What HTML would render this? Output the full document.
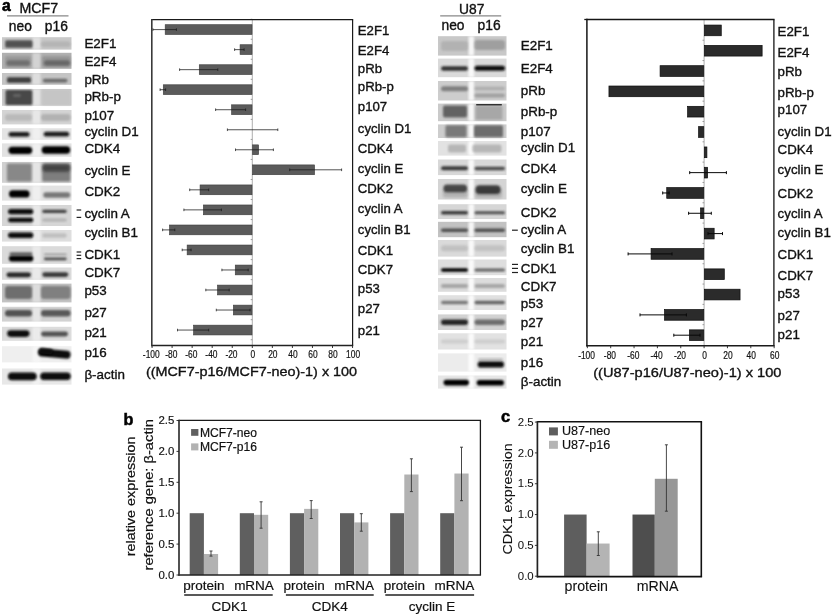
<!DOCTYPE html>
<html><head><meta charset="utf-8"><style>
html,body{margin:0;padding:0;background:#fff;width:833px;height:615px;overflow:hidden}
svg{display:block;font-family:"Liberation Sans",sans-serif;will-change:transform}
text{font-family:"Liberation Sans",sans-serif}
</style></head><body>
<svg width="833" height="615" viewBox="0 0 833 615" font-family="'Liberation Sans', sans-serif"><defs><filter id="b4" x="-20%" y="-50%" width="140%" height="200%"><feGaussianBlur stdDeviation="0.4"/></filter><filter id="b6" x="-20%" y="-50%" width="140%" height="200%"><feGaussianBlur stdDeviation="0.6"/></filter><filter id="b8" x="-20%" y="-50%" width="140%" height="200%"><feGaussianBlur stdDeviation="0.8"/></filter><filter id="b10" x="-20%" y="-50%" width="140%" height="200%"><feGaussianBlur stdDeviation="1.0"/></filter><filter id="b12" x="-20%" y="-50%" width="140%" height="200%"><feGaussianBlur stdDeviation="1.2"/></filter><filter id="b15" x="-20%" y="-50%" width="140%" height="200%"><feGaussianBlur stdDeviation="1.5"/></filter><filter id="b20" x="-20%" y="-50%" width="140%" height="200%"><feGaussianBlur stdDeviation="2.0"/></filter></defs><rect width="833" height="615" fill="#fff"/><rect x="2.00" y="37.20" width="69.50" height="12.40" fill="#c9c9c9" filter="url(#b6)"/>
<rect x="32.50" y="37.20" width="8.00" height="12.40" fill="#ffffff" opacity="0.45" filter="url(#b10)"/>
<rect x="5.20" y="40.30" width="27.30" height="7.40" rx="1.5" fill="#3c3c3c" opacity="0.85" filter="url(#b8)"/>
<rect x="41.00" y="41.20" width="29.50" height="6.00" rx="3.0" fill="#a5a5a5" opacity="0.55" filter="url(#b8)"/>
<rect x="2.00" y="52.80" width="69.50" height="16.00" fill="#b0b0b0" filter="url(#b6)"/>
<rect x="32.50" y="52.80" width="8.00" height="16.00" fill="#ffffff" opacity="0.45" filter="url(#b10)"/>
<rect x="5.00" y="56.00" width="26.00" height="11.00" rx="2" fill="#8a8a8a" opacity="0.6" filter="url(#b12)"/>
<rect x="42.00" y="56.00" width="28.50" height="11.00" rx="2" fill="#858585" opacity="0.6" filter="url(#b12)"/>
<rect x="6.50" y="60.25" width="23.50" height="5.50" rx="2.75" fill="#5e5e5e" opacity="0.7" filter="url(#b8)"/>
<rect x="44.00" y="60.25" width="26.00" height="5.50" rx="2.75" fill="#555" opacity="0.7" filter="url(#b8)"/>
<rect x="2.00" y="73.00" width="69.50" height="11.80" fill="#c4c4c4" filter="url(#b6)"/>
<rect x="32.50" y="73.00" width="8.00" height="11.80" fill="#ffffff" opacity="0.45" filter="url(#b10)"/>
<rect x="7.00" y="77.25" width="24.00" height="5.50" rx="1.5" fill="#262626" opacity="0.85" filter="url(#b8)"/>
<rect x="42.80" y="78.80" width="24.70" height="3.60" rx="1.8" fill="#444" opacity="0.7" filter="url(#b8)"/>
<rect x="2.00" y="89.00" width="69.50" height="16.80" fill="#cacaca" filter="url(#b6)"/>
<rect x="32.50" y="89.00" width="8.00" height="16.80" fill="#ffffff" opacity="0.45" filter="url(#b10)"/>
<rect x="5.50" y="89.90" width="26.80" height="15.00" rx="1.5" fill="#333" opacity="0.85" filter="url(#b8)"/>
<rect x="13.00" y="94.00" width="8.00" height="3.00" rx="1.5" fill="#999" opacity="0.35" filter="url(#b8)"/>
<rect x="42.30" y="89.90" width="28.20" height="15.00" rx="1" fill="#c2c2c2" opacity="0.6" filter="url(#b8)"/>
<rect x="2.00" y="110.00" width="69.50" height="14.40" fill="#d4d4d4" filter="url(#b6)"/>
<rect x="32.50" y="110.00" width="8.00" height="14.40" fill="#ffffff" opacity="0.45" filter="url(#b10)"/>
<rect x="5.00" y="114.00" width="27.00" height="7.00" rx="3" fill="#aaa" opacity="0.6" filter="url(#b8)"/>
<rect x="41.00" y="114.00" width="29.50" height="7.00" rx="3" fill="#9d9d9d" opacity="0.6" filter="url(#b8)"/>
<rect x="2.00" y="128.20" width="69.50" height="11.60" fill="#e4e4e4" filter="url(#b6)"/>
<rect x="32.50" y="128.20" width="8.00" height="11.60" fill="#ffffff" opacity="0.45" filter="url(#b10)"/>
<rect x="8.60" y="132.00" width="21.00" height="4.80" rx="2.4" fill="#111" opacity="0.92" filter="url(#b8)"/>
<rect x="43.70" y="131.80" width="25.50" height="4.80" rx="2.4" fill="#111" opacity="0.92" filter="url(#b8)"/>
<rect x="2.00" y="143.40" width="69.50" height="13.40" fill="#e2e2e2" filter="url(#b6)"/>
<rect x="32.50" y="143.40" width="8.00" height="13.40" fill="#ffffff" opacity="0.45" filter="url(#b10)"/>
<rect x="8.50" y="146.70" width="23.70" height="7.20" rx="3.6" fill="#050505" opacity="1" filter="url(#b8)"/>
<rect x="41.70" y="146.30" width="28.50" height="7.40" rx="3.6" fill="#050505" opacity="1" filter="url(#b8)"/>
<rect x="2.00" y="162.00" width="69.50" height="20.80" fill="#d0d0d0" filter="url(#b6)"/>
<rect x="32.50" y="162.00" width="8.00" height="20.80" fill="#ffffff" opacity="0.45" filter="url(#b10)"/>
<rect x="6.90" y="163.40" width="24.80" height="18.00" rx="1.5" fill="#777" opacity="0.8" filter="url(#b10)"/>
<rect x="42.30" y="163.40" width="27.90" height="18.00" rx="1.5" fill="#6a6a6a" opacity="0.8" filter="url(#b10)"/>
<rect x="42.50" y="164.25" width="27.50" height="7.50" rx="3" fill="#2a2a2a" opacity="0.7" filter="url(#b15)"/>
<rect x="2.00" y="185.60" width="69.50" height="15.00" fill="#e2e2e2" filter="url(#b6)"/>
<rect x="32.50" y="185.60" width="8.00" height="15.00" fill="#ffffff" opacity="0.45" filter="url(#b10)"/>
<rect x="9.00" y="190.20" width="20.60" height="7.40" rx="3.6" fill="#060606" opacity="1" filter="url(#b8)"/>
<rect x="43.30" y="192.35" width="26.90" height="5.30" rx="2.6" fill="#555" opacity="0.75" filter="url(#b8)"/>
<rect x="2.00" y="205.00" width="69.50" height="21.00" fill="#d6d6d6" filter="url(#b6)"/>
<rect x="32.50" y="205.00" width="8.00" height="21.00" fill="#ffffff" opacity="0.45" filter="url(#b10)"/>
<rect x="8.10" y="208.90" width="25.20" height="5.40" rx="2.7" fill="#080808" opacity="1" filter="url(#b8)"/>
<rect x="8.10" y="217.80" width="25.20" height="4.40" rx="2.2" fill="#0a0a0a" opacity="1" filter="url(#b8)"/>
<rect x="42.30" y="209.70" width="24.40" height="3.20" rx="1.6" fill="#333" opacity="0.9" filter="url(#b8)"/>
<rect x="42.30" y="218.50" width="24.40" height="3.00" rx="1.5" fill="#999" opacity="0.6" filter="url(#b8)"/>
<rect x="2.00" y="230.00" width="69.50" height="11.60" fill="#dedede" filter="url(#b6)"/>
<rect x="32.50" y="230.00" width="8.00" height="11.60" fill="#ffffff" opacity="0.45" filter="url(#b10)"/>
<rect x="8.10" y="232.60" width="25.20" height="5.40" rx="2.7" fill="#080808" opacity="1" filter="url(#b8)"/>
<rect x="42.30" y="233.35" width="24.40" height="4.50" rx="2.25" fill="#aaa" opacity="0.6" filter="url(#b8)"/>
<rect x="2.00" y="246.20" width="69.50" height="17.60" fill="#dadada" filter="url(#b6)"/>
<rect x="32.50" y="246.20" width="8.00" height="17.60" fill="#ffffff" opacity="0.45" filter="url(#b10)"/>
<rect x="8.90" y="255.40" width="24.40" height="6.00" rx="3" fill="#050505" opacity="1" filter="url(#b8)"/>
<rect x="9.50" y="252.25" width="23.00" height="3.50" rx="1.7" fill="#3a3a3a" opacity="0.75" filter="url(#b8)"/>
<rect x="44.00" y="257.50" width="22.70" height="2.80" rx="1.4" fill="#333" opacity="0.85" filter="url(#b8)"/>
<rect x="44.00" y="253.35" width="22.70" height="2.50" rx="1.2" fill="#888" opacity="0.6" filter="url(#b8)"/>
<rect x="2.00" y="267.50" width="69.50" height="12.30" fill="#dadada" filter="url(#b6)"/>
<rect x="32.50" y="267.50" width="8.00" height="12.30" fill="#ffffff" opacity="0.45" filter="url(#b10)"/>
<rect x="6.50" y="272.40" width="24.40" height="4.80" rx="2.4" fill="#1a1a1a" opacity="0.95" filter="url(#b8)"/>
<rect x="42.30" y="272.20" width="26.00" height="4.80" rx="2.4" fill="#2a2a2a" opacity="0.9" filter="url(#b8)"/>
<rect x="2.00" y="283.60" width="69.50" height="18.80" fill="#c2c2c2" filter="url(#b6)"/>
<rect x="32.50" y="283.60" width="8.00" height="18.80" fill="#ffffff" opacity="0.45" filter="url(#b10)"/>
<rect x="5.00" y="286.00" width="27.00" height="13.00" rx="3" fill="#5a5a5a" opacity="0.8" filter="url(#b8)"/>
<rect x="41.00" y="286.00" width="29.50" height="13.00" rx="3" fill="#6a6a6a" opacity="0.75" filter="url(#b8)"/>
<rect x="2.00" y="306.80" width="69.50" height="14.80" fill="#d2d2d2" filter="url(#b6)"/>
<rect x="32.50" y="306.80" width="8.00" height="14.80" fill="#ffffff" opacity="0.45" filter="url(#b10)"/>
<rect x="5.00" y="310.05" width="27.00" height="6.50" rx="3" fill="#3e3e3e" opacity="0.85" filter="url(#b8)"/>
<rect x="41.00" y="310.05" width="29.50" height="6.50" rx="3" fill="#444" opacity="0.85" filter="url(#b8)"/>
<rect x="2.00" y="326.80" width="69.50" height="14.00" fill="#dcdcdc" filter="url(#b6)"/>
<rect x="32.50" y="326.80" width="8.00" height="14.00" fill="#ffffff" opacity="0.45" filter="url(#b10)"/>
<rect x="7.20" y="330.30" width="22.30" height="6.60" rx="3.3" fill="#101010" opacity="1" filter="url(#b8)"/>
<rect x="41.10" y="331.60" width="26.90" height="4.80" rx="2.4" fill="#3a3a3a" opacity="0.85" filter="url(#b8)"/>
<rect x="2.00" y="346.20" width="69.50" height="16.20" fill="#efefef" filter="url(#b6)"/>
<rect x="32.50" y="346.20" width="8.00" height="16.20" fill="#ffffff" opacity="0.45" filter="url(#b10)"/>
<rect x="2.00" y="368.50" width="69.50" height="16.10" fill="#e8e8e8" filter="url(#b6)"/>
<rect x="32.50" y="368.50" width="8.00" height="16.10" fill="#ffffff" opacity="0.45" filter="url(#b10)"/>
<rect x="8.00" y="372.60" width="28.70" height="7.60" rx="3.8" fill="#070707" opacity="1" filter="url(#b8)"/>
<rect x="40.20" y="372.40" width="30.50" height="7.60" rx="3.8" fill="#070707" opacity="1" filter="url(#b8)"/>
<g transform="translate(54.3,353.6) rotate(5)"><rect x="-16.3" y="-3.9" width="32.6" height="7.8" rx="3.9" fill="#070707" filter="url(#b8)"/><rect x="-15.5" y="-4.3" width="14" height="6" rx="3" fill="#070707" filter="url(#b8)"/></g>
<rect x="438.00" y="36.20" width="68.50" height="19.40" fill="#c8c8c8" filter="url(#b6)"/>
<rect x="468.50" y="36.20" width="5.50" height="19.40" fill="#ffffff" opacity="0.85" filter="url(#b10)"/>
<rect x="441.00" y="41.00" width="27.00" height="10.00" rx="3" fill="#a5a5a5" opacity="0.6" filter="url(#b8)"/>
<rect x="474.50" y="40.00" width="30.50" height="10.00" rx="3" fill="#8e8e8e" opacity="0.7" filter="url(#b8)"/>
<rect x="438.00" y="58.60" width="68.50" height="18.60" fill="#dadada" filter="url(#b6)"/>
<rect x="468.50" y="58.60" width="5.50" height="18.60" fill="#ffffff" opacity="0.85" filter="url(#b10)"/>
<rect x="441.00" y="66.15" width="27.00" height="4.50" rx="2.25" fill="#222" opacity="0.9" filter="url(#b8)"/>
<rect x="474.50" y="65.80" width="30.50" height="5.00" rx="2.5" fill="#0a0a0a" opacity="1" filter="url(#b8)"/>
<rect x="438.00" y="81.00" width="68.50" height="19.50" fill="#cdcdcd" filter="url(#b6)"/>
<rect x="468.50" y="81.00" width="5.50" height="19.50" fill="#ffffff" opacity="0.85" filter="url(#b10)"/>
<rect x="441.00" y="86.30" width="27.00" height="5.00" rx="2.5" fill="#666" opacity="0.75" filter="url(#b8)"/>
<rect x="474.50" y="86.75" width="30.50" height="3.50" rx="1.75" fill="#999" opacity="0.6" filter="url(#b8)"/>
<rect x="474.50" y="93.60" width="30.50" height="4.00" rx="2.0" fill="#888" opacity="0.65" filter="url(#b8)"/>
<rect x="438.00" y="103.60" width="68.50" height="17.60" fill="#cacaca" filter="url(#b6)"/>
<rect x="468.50" y="103.60" width="5.50" height="17.60" fill="#ffffff" opacity="0.85" filter="url(#b10)"/>
<rect x="443.00" y="105.50" width="24.00" height="12.00" rx="2" fill="#4a4a4a" opacity="0.8" filter="url(#b12)"/>
<rect x="475.50" y="105.80" width="27.00" height="14.00" rx="1.5" fill="#999" opacity="0.7" filter="url(#b10)"/>
<rect x="476.00" y="104.00" width="26.00" height="1.60" rx="0.8" fill="#111" opacity="0.8" filter="url(#b6)"/>
<rect x="438.00" y="124.40" width="68.50" height="13.60" fill="#cdcdcd" filter="url(#b6)"/>
<rect x="468.50" y="124.40" width="5.50" height="13.60" fill="#ffffff" opacity="0.85" filter="url(#b10)"/>
<rect x="445.40" y="125.20" width="21.10" height="12.00" rx="1.5" fill="#5e5e5e" opacity="0.75" filter="url(#b10)"/>
<rect x="474.00" y="125.20" width="29.00" height="12.00" rx="1.5" fill="#555" opacity="0.8" filter="url(#b10)"/>
<rect x="438.00" y="141.00" width="68.50" height="14.60" fill="#e2e2e2" filter="url(#b6)"/>
<rect x="468.50" y="141.00" width="5.50" height="14.60" fill="#ffffff" opacity="0.85" filter="url(#b10)"/>
<rect x="448.00" y="144.50" width="18.00" height="8.00" rx="2" fill="#999" opacity="0.6" filter="url(#b12)"/>
<rect x="472.30" y="144.50" width="29.20" height="8.00" rx="2" fill="#999" opacity="0.6" filter="url(#b12)"/>
<rect x="438.00" y="159.50" width="68.50" height="15.60" fill="#d8d8d8" filter="url(#b6)"/>
<rect x="468.50" y="159.50" width="5.50" height="15.60" fill="#ffffff" opacity="0.85" filter="url(#b10)"/>
<rect x="441.00" y="166.30" width="27.00" height="4.00" rx="2.0" fill="#2a2a2a" opacity="0.9" filter="url(#b8)"/>
<rect x="474.50" y="166.75" width="30.50" height="3.50" rx="1.75" fill="#333" opacity="0.85" filter="url(#b8)"/>
<rect x="438.00" y="179.00" width="68.50" height="20.50" fill="#d4d4d4" filter="url(#b6)"/>
<rect x="468.50" y="179.00" width="5.50" height="20.50" fill="#ffffff" opacity="0.85" filter="url(#b10)"/>
<rect x="443.00" y="187.50" width="24.50" height="10.00" rx="2" fill="#999" opacity="0.6" filter="url(#b15)"/>
<rect x="475.00" y="188.00" width="27.00" height="10.00" rx="2" fill="#999" opacity="0.6" filter="url(#b15)"/>
<rect x="443.50" y="184.40" width="23.50" height="7.80" rx="3.5" fill="#333" opacity="0.85" filter="url(#b12)"/>
<rect x="475.50" y="185.30" width="25.00" height="8.60" rx="4" fill="#2a2a2a" opacity="0.88" filter="url(#b12)"/>
<rect x="438.00" y="204.20" width="68.50" height="14.80" fill="#d6d6d6" filter="url(#b6)"/>
<rect x="468.50" y="204.20" width="5.50" height="14.80" fill="#ffffff" opacity="0.85" filter="url(#b10)"/>
<rect x="441.00" y="211.05" width="27.00" height="3.50" rx="1.75" fill="#2a2a2a" opacity="0.9" filter="url(#b8)"/>
<rect x="474.50" y="211.30" width="30.50" height="3.00" rx="1.5" fill="#3a3a3a" opacity="0.85" filter="url(#b8)"/>
<rect x="438.00" y="221.80" width="68.50" height="15.40" fill="#c2c2c2" filter="url(#b6)"/>
<rect x="468.50" y="221.80" width="5.50" height="15.40" fill="#ffffff" opacity="0.85" filter="url(#b10)"/>
<rect x="441.00" y="228.45" width="27.00" height="3.50" rx="1.75" fill="#3a3a3a" opacity="0.85" filter="url(#b8)"/>
<rect x="474.50" y="228.45" width="30.50" height="3.50" rx="1.75" fill="#3a3a3a" opacity="0.85" filter="url(#b8)"/>
<rect x="438.00" y="240.00" width="68.50" height="16.60" fill="#dadada" filter="url(#b6)"/>
<rect x="468.50" y="240.00" width="5.50" height="16.60" fill="#ffffff" opacity="0.85" filter="url(#b10)"/>
<rect x="441.00" y="245.30" width="27.00" height="6.00" rx="3.0" fill="#b0b0b0" opacity="0.6" filter="url(#b8)"/>
<rect x="474.50" y="245.30" width="30.50" height="6.00" rx="3.0" fill="#b3b3b3" opacity="0.6" filter="url(#b8)"/>
<rect x="438.00" y="259.50" width="68.50" height="15.70" fill="#dedede" filter="url(#b6)"/>
<rect x="468.50" y="259.50" width="5.50" height="15.70" fill="#ffffff" opacity="0.85" filter="url(#b10)"/>
<rect x="441.00" y="268.15" width="27.00" height="3.50" rx="1.75" fill="#000" opacity="1" filter="url(#b8)"/>
<rect x="474.50" y="268.40" width="30.50" height="3.00" rx="1.5" fill="#444" opacity="0.8" filter="url(#b8)"/>
<rect x="438.00" y="278.00" width="68.50" height="13.80" fill="#dcdcdc" filter="url(#b6)"/>
<rect x="468.50" y="278.00" width="5.50" height="13.80" fill="#ffffff" opacity="0.85" filter="url(#b10)"/>
<rect x="441.00" y="283.90" width="27.00" height="4.00" rx="2.0" fill="#888" opacity="0.65" filter="url(#b8)"/>
<rect x="474.50" y="283.90" width="30.50" height="4.00" rx="2.0" fill="#8a8a8a" opacity="0.65" filter="url(#b8)"/>
<rect x="438.00" y="295.20" width="68.50" height="14.80" fill="#e0e0e0" filter="url(#b6)"/>
<rect x="468.50" y="295.20" width="5.50" height="14.80" fill="#ffffff" opacity="0.85" filter="url(#b10)"/>
<rect x="441.00" y="300.65" width="27.00" height="3.50" rx="1.75" fill="#555" opacity="0.75" filter="url(#b8)"/>
<rect x="474.50" y="300.65" width="30.50" height="3.50" rx="1.75" fill="#444" opacity="0.8" filter="url(#b8)"/>
<rect x="438.00" y="314.40" width="68.50" height="15.60" fill="#d2d2d2" filter="url(#b6)"/>
<rect x="468.50" y="314.40" width="5.50" height="15.60" fill="#ffffff" opacity="0.85" filter="url(#b10)"/>
<rect x="441.00" y="319.45" width="27.00" height="5.50" rx="2.75" fill="#1e1e1e" opacity="0.95" filter="url(#b8)"/>
<rect x="474.50" y="319.45" width="30.50" height="5.50" rx="2.75" fill="#555" opacity="0.8" filter="url(#b8)"/>
<rect x="438.00" y="333.30" width="68.50" height="16.20" fill="#e2e2e2" filter="url(#b6)"/>
<rect x="468.50" y="333.30" width="5.50" height="16.20" fill="#ffffff" opacity="0.85" filter="url(#b10)"/>
<rect x="441.00" y="339.50" width="27.00" height="4.00" rx="2.0" fill="#c0c0c0" opacity="0.6" filter="url(#b8)"/>
<rect x="474.50" y="339.50" width="30.50" height="4.00" rx="2.0" fill="#c0c0c0" opacity="0.6" filter="url(#b8)"/>
<rect x="438.00" y="353.40" width="68.50" height="18.20" fill="#ececec" filter="url(#b6)"/>
<rect x="468.50" y="353.40" width="5.50" height="18.20" fill="#ffffff" opacity="0.85" filter="url(#b10)"/>
<rect x="477.70" y="361.20" width="26.30" height="6.40" rx="3.2" fill="#0a0a0a" opacity="1" filter="url(#b8)"/>
<rect x="478.00" y="358.35" width="25.00" height="2.50" rx="1.25" fill="#999" opacity="0.6" filter="url(#b8)"/>
<rect x="438.00" y="375.50" width="68.50" height="13.10" fill="#e6e6e6" filter="url(#b6)"/>
<rect x="468.50" y="375.50" width="5.50" height="13.10" fill="#ffffff" opacity="0.85" filter="url(#b10)"/>
<rect x="443.50" y="379.80" width="25.50" height="5.60" rx="2.8" fill="#050505" opacity="1" filter="url(#b8)"/>
<rect x="476.70" y="380.00" width="27.30" height="5.60" rx="2.8" fill="#050505" opacity="1" filter="url(#b8)"/>
<text transform="translate(2.10,10.80)" font-size="15.6" font-weight="bold" fill="#000" stroke="#000" stroke-width="0.6">a</text>
<text transform="translate(19.50,13.30) scale(1.030,1)" font-size="13.8" fill="#111" stroke="#111" stroke-width="0.35">MCF7</text>
<line x1="7.00" y1="15.80" x2="68.50" y2="15.80" stroke="#888" stroke-width="1.2"/>
<text transform="translate(8.80,30.70)" font-size="13.8" fill="#111" stroke="#111" stroke-width="0.35">neo</text>
<text transform="translate(44.80,30.70)" font-size="13.8" fill="#111" stroke="#111" stroke-width="0.35">p16</text>
<text transform="translate(459.00,13.60)" font-size="13.8" fill="#111" stroke="#111" stroke-width="0.35">U87</text>
<line x1="440.20" y1="15.90" x2="501.20" y2="15.90" stroke="#888" stroke-width="1.3"/>
<text transform="translate(441.50,30.30)" font-size="13.8" fill="#111" stroke="#111" stroke-width="0.35">neo</text>
<text transform="translate(477.60,30.30)" font-size="13.8" fill="#111" stroke="#111" stroke-width="0.35">p16</text>
<text transform="translate(84.40,47.60)" font-size="13.4" fill="#111" stroke="#111" stroke-width="0.35">E2F1</text>
<text transform="translate(84.40,65.80)" font-size="13.4" fill="#111" stroke="#111" stroke-width="0.35">E2F4</text>
<text transform="translate(84.40,83.70)" font-size="13.4" fill="#111" stroke="#111" stroke-width="0.35">pRb</text>
<text transform="translate(84.40,100.70)" font-size="13.4" fill="#111" stroke="#111" stroke-width="0.35">pRb-p</text>
<text transform="translate(84.40,120.20)" font-size="13.4" fill="#111" stroke="#111" stroke-width="0.35">p107</text>
<text transform="translate(84.40,136.30)" font-size="13.4" fill="#111" stroke="#111" stroke-width="0.35">cyclin D1</text>
<text transform="translate(84.40,153.30)" font-size="13.4" fill="#111" stroke="#111" stroke-width="0.35">CDK4</text>
<text transform="translate(84.40,174.50)" font-size="13.4" fill="#111" stroke="#111" stroke-width="0.35">cyclin E</text>
<text transform="translate(84.40,195.60)" font-size="13.4" fill="#111" stroke="#111" stroke-width="0.35">CDK2</text>
<text transform="translate(84.40,218.20)" font-size="13.4" fill="#111" stroke="#111" stroke-width="0.35">cyclin A</text>
<text transform="translate(84.40,237.40)" font-size="13.4" fill="#111" stroke="#111" stroke-width="0.35">cyclin B1</text>
<text transform="translate(84.40,258.50)" font-size="13.4" fill="#111" stroke="#111" stroke-width="0.35">CDK1</text>
<text transform="translate(84.40,277.20)" font-size="13.4" fill="#111" stroke="#111" stroke-width="0.35">CDK7</text>
<text transform="translate(84.40,295.10)" font-size="13.4" fill="#111" stroke="#111" stroke-width="0.35">p53</text>
<text transform="translate(84.40,316.80)" font-size="13.4" fill="#111" stroke="#111" stroke-width="0.35">p27</text>
<text transform="translate(84.40,337.20)" font-size="13.4" fill="#111" stroke="#111" stroke-width="0.35">p21</text>
<text transform="translate(84.40,357.00)" font-size="13.4" fill="#111" stroke="#111" stroke-width="0.35">p16</text>
<text transform="translate(84.40,378.60)" font-size="13.4" fill="#111" stroke="#111" stroke-width="0.35">&#946;-actin</text>
<line x1="76.60" y1="210.00" x2="81.20" y2="210.00" stroke="#222" stroke-width="1.2"/>
<line x1="76.60" y1="217.40" x2="81.20" y2="217.40" stroke="#222" stroke-width="1.2"/>
<line x1="76.60" y1="252.00" x2="81.20" y2="252.00" stroke="#222" stroke-width="1.2"/>
<line x1="76.60" y1="255.30" x2="81.20" y2="255.30" stroke="#222" stroke-width="1.2"/>
<line x1="76.60" y1="258.60" x2="81.20" y2="258.60" stroke="#222" stroke-width="1.2"/>
<text transform="translate(520.80,49.70)" font-size="13.4" fill="#111" stroke="#111" stroke-width="0.35">E2F1</text>
<text transform="translate(520.80,72.60)" font-size="13.4" fill="#111" stroke="#111" stroke-width="0.35">E2F4</text>
<text transform="translate(520.80,95.00)" font-size="13.4" fill="#111" stroke="#111" stroke-width="0.35">pRb</text>
<text transform="translate(520.80,115.80)" font-size="13.4" fill="#111" stroke="#111" stroke-width="0.35">pRb-p</text>
<text transform="translate(520.80,135.50)" font-size="13.4" fill="#111" stroke="#111" stroke-width="0.35">p107</text>
<text transform="translate(520.80,151.70)" font-size="13.4" fill="#111" stroke="#111" stroke-width="0.35">cyclin D1</text>
<text transform="translate(520.80,172.60)" font-size="13.4" fill="#111" stroke="#111" stroke-width="0.35">CDK4</text>
<text transform="translate(520.80,193.40)" font-size="13.4" fill="#111" stroke="#111" stroke-width="0.35">cyclin E</text>
<text transform="translate(520.80,217.20)" font-size="13.4" fill="#111" stroke="#111" stroke-width="0.35">CDK2</text>
<text transform="translate(520.80,234.10)" font-size="13.4" fill="#111" stroke="#111" stroke-width="0.35">cyclin A</text>
<text transform="translate(520.80,253.10)" font-size="13.4" fill="#111" stroke="#111" stroke-width="0.35">cyclin B1</text>
<text transform="translate(520.80,273.20)" font-size="13.4" fill="#111" stroke="#111" stroke-width="0.35">CDK1</text>
<text transform="translate(520.80,291.10)" font-size="13.4" fill="#111" stroke="#111" stroke-width="0.35">CDK7</text>
<text transform="translate(520.80,307.80)" font-size="13.4" fill="#111" stroke="#111" stroke-width="0.35">p53</text>
<text transform="translate(520.80,326.90)" font-size="13.4" fill="#111" stroke="#111" stroke-width="0.35">p27</text>
<text transform="translate(520.80,346.40)" font-size="13.4" fill="#111" stroke="#111" stroke-width="0.35">p21</text>
<text transform="translate(520.80,367.40)" font-size="13.4" fill="#111" stroke="#111" stroke-width="0.35">p16</text>
<text transform="translate(520.80,386.40)" font-size="13.4" fill="#111" stroke="#111" stroke-width="0.35">&#946;-actin</text>
<line x1="512.00" y1="230.20" x2="517.80" y2="230.20" stroke="#222" stroke-width="1.2"/>
<line x1="512.00" y1="264.40" x2="518.00" y2="264.40" stroke="#222" stroke-width="1.2"/>
<line x1="512.00" y1="268.40" x2="518.00" y2="268.40" stroke="#222" stroke-width="1.2"/>
<line x1="512.00" y1="272.50" x2="518.00" y2="272.50" stroke="#222" stroke-width="1.2"/>
<line x1="252.30" y1="19.70" x2="252.30" y2="345.50" stroke="#9a9a9a" stroke-width="0.8"/>
<line x1="250.70" y1="19.25" x2="252.30" y2="19.25" stroke="#888" stroke-width="0.8"/>
<line x1="250.70" y1="39.28" x2="252.30" y2="39.28" stroke="#888" stroke-width="0.8"/>
<line x1="250.70" y1="59.31" x2="252.30" y2="59.31" stroke="#888" stroke-width="0.8"/>
<line x1="250.70" y1="79.34" x2="252.30" y2="79.34" stroke="#888" stroke-width="0.8"/>
<line x1="250.70" y1="99.37" x2="252.30" y2="99.37" stroke="#888" stroke-width="0.8"/>
<line x1="250.70" y1="119.40" x2="252.30" y2="119.40" stroke="#888" stroke-width="0.8"/>
<line x1="250.70" y1="139.43" x2="252.30" y2="139.43" stroke="#888" stroke-width="0.8"/>
<line x1="250.70" y1="159.46" x2="252.30" y2="159.46" stroke="#888" stroke-width="0.8"/>
<line x1="250.70" y1="179.49" x2="252.30" y2="179.49" stroke="#888" stroke-width="0.8"/>
<line x1="250.70" y1="199.52" x2="252.30" y2="199.52" stroke="#888" stroke-width="0.8"/>
<line x1="250.70" y1="219.55" x2="252.30" y2="219.55" stroke="#888" stroke-width="0.8"/>
<line x1="250.70" y1="239.58" x2="252.30" y2="239.58" stroke="#888" stroke-width="0.8"/>
<line x1="250.70" y1="259.61" x2="252.30" y2="259.61" stroke="#888" stroke-width="0.8"/>
<line x1="250.70" y1="279.64" x2="252.30" y2="279.64" stroke="#888" stroke-width="0.8"/>
<line x1="250.70" y1="299.67" x2="252.30" y2="299.67" stroke="#888" stroke-width="0.8"/>
<line x1="250.70" y1="319.70" x2="252.30" y2="319.70" stroke="#888" stroke-width="0.8"/>
<line x1="250.70" y1="339.73" x2="252.30" y2="339.73" stroke="#888" stroke-width="0.8"/>
<rect x="165.18" y="24.70" width="86.82" height="9.80" fill="#5b5b5b" stroke="#3c3c3c" stroke-width="0.6"/>
<line x1="152.90" y1="29.60" x2="176.40" y2="29.60" stroke="#1a1a1a" stroke-width="0.75"/>
<line x1="152.90" y1="28.30" x2="152.90" y2="30.90" stroke="#1a1a1a" stroke-width="0.75"/>
<line x1="176.40" y1="28.30" x2="176.40" y2="30.90" stroke="#1a1a1a" stroke-width="0.75"/>
<rect x="240.07" y="44.73" width="11.93" height="9.80" fill="#5b5b5b" stroke="#3c3c3c" stroke-width="0.6"/>
<line x1="234.60" y1="49.63" x2="244.10" y2="49.63" stroke="#1a1a1a" stroke-width="0.75"/>
<line x1="234.60" y1="48.33" x2="234.60" y2="50.93" stroke="#1a1a1a" stroke-width="0.75"/>
<line x1="244.10" y1="48.33" x2="244.10" y2="50.93" stroke="#1a1a1a" stroke-width="0.75"/>
<rect x="199.27" y="64.76" width="52.73" height="9.80" fill="#5b5b5b" stroke="#3c3c3c" stroke-width="0.6"/>
<line x1="179.60" y1="69.66" x2="217.80" y2="69.66" stroke="#1a1a1a" stroke-width="0.75"/>
<line x1="179.60" y1="68.36" x2="179.60" y2="70.96" stroke="#1a1a1a" stroke-width="0.75"/>
<line x1="217.80" y1="68.36" x2="217.80" y2="70.96" stroke="#1a1a1a" stroke-width="0.75"/>
<rect x="163.28" y="84.79" width="88.72" height="9.80" fill="#5b5b5b" stroke="#3c3c3c" stroke-width="0.6"/>
<line x1="160.10" y1="89.69" x2="165.60" y2="89.69" stroke="#1a1a1a" stroke-width="0.75"/>
<line x1="160.10" y1="88.39" x2="160.10" y2="90.99" stroke="#1a1a1a" stroke-width="0.75"/>
<line x1="165.60" y1="88.39" x2="165.60" y2="90.99" stroke="#1a1a1a" stroke-width="0.75"/>
<rect x="231.55" y="104.82" width="20.45" height="9.80" fill="#5b5b5b" stroke="#3c3c3c" stroke-width="0.6"/>
<line x1="215.60" y1="109.72" x2="245.60" y2="109.72" stroke="#1a1a1a" stroke-width="0.75"/>
<line x1="215.60" y1="108.42" x2="215.60" y2="111.02" stroke="#1a1a1a" stroke-width="0.75"/>
<line x1="245.60" y1="108.42" x2="245.60" y2="111.02" stroke="#1a1a1a" stroke-width="0.75"/>
<line x1="227.40" y1="129.75" x2="277.80" y2="129.75" stroke="#1a1a1a" stroke-width="0.75"/>
<line x1="227.40" y1="128.45" x2="227.40" y2="131.05" stroke="#1a1a1a" stroke-width="0.75"/>
<line x1="277.80" y1="128.45" x2="277.80" y2="131.05" stroke="#1a1a1a" stroke-width="0.75"/>
<rect x="252.60" y="144.88" width="6.02" height="9.80" fill="#5b5b5b" stroke="#3c3c3c" stroke-width="0.6"/>
<line x1="235.50" y1="149.78" x2="273.40" y2="149.78" stroke="#1a1a1a" stroke-width="0.75"/>
<line x1="235.50" y1="148.48" x2="235.50" y2="151.08" stroke="#1a1a1a" stroke-width="0.75"/>
<line x1="273.40" y1="148.48" x2="273.40" y2="151.08" stroke="#1a1a1a" stroke-width="0.75"/>
<rect x="252.60" y="164.91" width="61.96" height="9.80" fill="#5b5b5b" stroke="#3c3c3c" stroke-width="0.6"/>
<line x1="289.70" y1="169.81" x2="341.60" y2="169.81" stroke="#1a1a1a" stroke-width="0.75"/>
<line x1="289.70" y1="168.51" x2="289.70" y2="171.11" stroke="#1a1a1a" stroke-width="0.75"/>
<line x1="341.60" y1="168.51" x2="341.60" y2="171.11" stroke="#1a1a1a" stroke-width="0.75"/>
<rect x="200.07" y="184.94" width="51.93" height="9.80" fill="#5b5b5b" stroke="#3c3c3c" stroke-width="0.6"/>
<line x1="189.70" y1="189.84" x2="208.70" y2="189.84" stroke="#1a1a1a" stroke-width="0.75"/>
<line x1="189.70" y1="188.54" x2="189.70" y2="191.14" stroke="#1a1a1a" stroke-width="0.75"/>
<line x1="208.70" y1="188.54" x2="208.70" y2="191.14" stroke="#1a1a1a" stroke-width="0.75"/>
<rect x="203.38" y="204.97" width="48.62" height="9.80" fill="#5b5b5b" stroke="#3c3c3c" stroke-width="0.6"/>
<line x1="183.90" y1="209.87" x2="221.40" y2="209.87" stroke="#1a1a1a" stroke-width="0.75"/>
<line x1="183.90" y1="208.57" x2="183.90" y2="211.17" stroke="#1a1a1a" stroke-width="0.75"/>
<line x1="221.40" y1="208.57" x2="221.40" y2="211.17" stroke="#1a1a1a" stroke-width="0.75"/>
<rect x="169.49" y="225.00" width="82.51" height="9.80" fill="#5b5b5b" stroke="#3c3c3c" stroke-width="0.6"/>
<line x1="162.60" y1="229.90" x2="174.80" y2="229.90" stroke="#1a1a1a" stroke-width="0.75"/>
<line x1="162.60" y1="228.60" x2="162.60" y2="231.20" stroke="#1a1a1a" stroke-width="0.75"/>
<line x1="174.80" y1="228.60" x2="174.80" y2="231.20" stroke="#1a1a1a" stroke-width="0.75"/>
<rect x="187.14" y="245.03" width="64.86" height="9.80" fill="#5b5b5b" stroke="#3c3c3c" stroke-width="0.6"/>
<line x1="182.20" y1="249.93" x2="191.10" y2="249.93" stroke="#1a1a1a" stroke-width="0.75"/>
<line x1="182.20" y1="248.63" x2="182.20" y2="251.23" stroke="#1a1a1a" stroke-width="0.75"/>
<line x1="191.10" y1="248.63" x2="191.10" y2="251.23" stroke="#1a1a1a" stroke-width="0.75"/>
<rect x="235.26" y="265.06" width="16.74" height="9.80" fill="#5b5b5b" stroke="#3c3c3c" stroke-width="0.6"/>
<line x1="221.90" y1="269.96" x2="248.20" y2="269.96" stroke="#1a1a1a" stroke-width="0.75"/>
<line x1="221.90" y1="268.66" x2="221.90" y2="271.26" stroke="#1a1a1a" stroke-width="0.75"/>
<line x1="248.20" y1="268.66" x2="248.20" y2="271.26" stroke="#1a1a1a" stroke-width="0.75"/>
<rect x="217.51" y="285.09" width="34.49" height="9.80" fill="#5b5b5b" stroke="#3c3c3c" stroke-width="0.6"/>
<line x1="205.80" y1="289.99" x2="229.20" y2="289.99" stroke="#1a1a1a" stroke-width="0.75"/>
<line x1="205.80" y1="288.69" x2="205.80" y2="291.29" stroke="#1a1a1a" stroke-width="0.75"/>
<line x1="229.20" y1="288.69" x2="229.20" y2="291.29" stroke="#1a1a1a" stroke-width="0.75"/>
<rect x="233.35" y="305.12" width="18.65" height="9.80" fill="#5b5b5b" stroke="#3c3c3c" stroke-width="0.6"/>
<line x1="216.30" y1="310.02" x2="250.10" y2="310.02" stroke="#1a1a1a" stroke-width="0.75"/>
<line x1="216.30" y1="308.72" x2="216.30" y2="311.32" stroke="#1a1a1a" stroke-width="0.75"/>
<line x1="250.10" y1="308.72" x2="250.10" y2="311.32" stroke="#1a1a1a" stroke-width="0.75"/>
<rect x="193.55" y="325.15" width="58.45" height="9.80" fill="#5b5b5b" stroke="#3c3c3c" stroke-width="0.6"/>
<line x1="177.50" y1="330.05" x2="208.70" y2="330.05" stroke="#1a1a1a" stroke-width="0.75"/>
<line x1="177.50" y1="328.75" x2="177.50" y2="331.35" stroke="#1a1a1a" stroke-width="0.75"/>
<line x1="208.70" y1="328.75" x2="208.70" y2="331.35" stroke="#1a1a1a" stroke-width="0.75"/>
<line x1="151.50" y1="19.70" x2="353.20" y2="19.70" stroke="#1a1a1a" stroke-width="1.2"/>
<line x1="352.60" y1="19.70" x2="352.60" y2="345.50" stroke="#1a1a1a" stroke-width="1.2"/>
<line x1="151.30" y1="345.50" x2="353.20" y2="345.50" stroke="#222" stroke-width="1.3"/>
<line x1="151.80" y1="19.10" x2="151.80" y2="346.15" stroke="#3a3a3a" stroke-width="1.6"/>
<line x1="152.05" y1="345.50" x2="152.05" y2="348.00" stroke="#222" stroke-width="0.9"/>
<text transform="translate(151.25,357.60) scale(0.780,1)" font-size="10.8" text-anchor="middle" fill="#111" stroke="#111" stroke-width="0.2">-100</text>
<line x1="172.10" y1="345.50" x2="172.10" y2="348.00" stroke="#222" stroke-width="0.9"/>
<text transform="translate(171.30,357.60) scale(0.780,1)" font-size="10.8" text-anchor="middle" fill="#111" stroke="#111" stroke-width="0.2">-80</text>
<line x1="192.15" y1="345.50" x2="192.15" y2="348.00" stroke="#222" stroke-width="0.9"/>
<text transform="translate(191.35,357.60) scale(0.780,1)" font-size="10.8" text-anchor="middle" fill="#111" stroke="#111" stroke-width="0.2">-60</text>
<line x1="212.20" y1="345.50" x2="212.20" y2="348.00" stroke="#222" stroke-width="0.9"/>
<text transform="translate(211.40,357.60) scale(0.780,1)" font-size="10.8" text-anchor="middle" fill="#111" stroke="#111" stroke-width="0.2">-40</text>
<line x1="232.25" y1="345.50" x2="232.25" y2="348.00" stroke="#222" stroke-width="0.9"/>
<text transform="translate(231.45,357.60) scale(0.780,1)" font-size="10.8" text-anchor="middle" fill="#111" stroke="#111" stroke-width="0.2">-20</text>
<line x1="252.30" y1="345.50" x2="252.30" y2="348.00" stroke="#222" stroke-width="0.9"/>
<text transform="translate(252.80,357.60) scale(0.780,1)" font-size="10.8" text-anchor="middle" fill="#111" stroke="#111" stroke-width="0.2">0</text>
<line x1="272.35" y1="345.50" x2="272.35" y2="348.00" stroke="#222" stroke-width="0.9"/>
<text transform="translate(272.85,357.60) scale(0.780,1)" font-size="10.8" text-anchor="middle" fill="#111" stroke="#111" stroke-width="0.2">20</text>
<line x1="292.40" y1="345.50" x2="292.40" y2="348.00" stroke="#222" stroke-width="0.9"/>
<text transform="translate(292.90,357.60) scale(0.780,1)" font-size="10.8" text-anchor="middle" fill="#111" stroke="#111" stroke-width="0.2">40</text>
<line x1="312.45" y1="345.50" x2="312.45" y2="348.00" stroke="#222" stroke-width="0.9"/>
<text transform="translate(312.95,357.60) scale(0.780,1)" font-size="10.8" text-anchor="middle" fill="#111" stroke="#111" stroke-width="0.2">60</text>
<line x1="332.50" y1="345.50" x2="332.50" y2="348.00" stroke="#222" stroke-width="0.9"/>
<text transform="translate(333.00,357.60) scale(0.780,1)" font-size="10.8" text-anchor="middle" fill="#111" stroke="#111" stroke-width="0.2">80</text>
<line x1="352.55" y1="345.50" x2="352.55" y2="348.00" stroke="#222" stroke-width="0.9"/>
<text transform="translate(353.05,357.60) scale(0.780,1)" font-size="10.8" text-anchor="middle" fill="#111" stroke="#111" stroke-width="0.2">100</text>
<text transform="translate(251.50,375.60) scale(1.075,1)" font-size="13.4" text-anchor="middle" fill="#111" stroke="#111" stroke-width="0.35">((MCF7-p16/MCF7-neo)-1) x 100</text>
<text transform="translate(357.80,35.30)" font-size="13.2" fill="#111" stroke="#111" stroke-width="0.35">E2F1</text>
<text transform="translate(357.80,54.80)" font-size="13.2" fill="#111" stroke="#111" stroke-width="0.35">E2F4</text>
<text transform="translate(357.80,73.20)" font-size="13.2" fill="#111" stroke="#111" stroke-width="0.35">pRb</text>
<text transform="translate(357.80,91.00)" font-size="13.2" fill="#111" stroke="#111" stroke-width="0.35">pRb-p</text>
<text transform="translate(357.80,111.20)" font-size="13.2" fill="#111" stroke="#111" stroke-width="0.35">p107</text>
<text transform="translate(357.80,132.80)" font-size="13.2" fill="#111" stroke="#111" stroke-width="0.35">cyclin D1</text>
<text transform="translate(357.80,153.10)" font-size="13.2" fill="#111" stroke="#111" stroke-width="0.35">CDK4</text>
<text transform="translate(357.80,172.60)" font-size="13.2" fill="#111" stroke="#111" stroke-width="0.35">cyclin E</text>
<text transform="translate(357.80,193.30)" font-size="13.2" fill="#111" stroke="#111" stroke-width="0.35">CDK2</text>
<text transform="translate(357.80,213.00)" font-size="13.2" fill="#111" stroke="#111" stroke-width="0.35">cyclin A</text>
<text transform="translate(357.80,234.10)" font-size="13.2" fill="#111" stroke="#111" stroke-width="0.35">cyclin B1</text>
<text transform="translate(357.80,255.30)" font-size="13.2" fill="#111" stroke="#111" stroke-width="0.35">CDK1</text>
<text transform="translate(357.80,274.00)" font-size="13.2" fill="#111" stroke="#111" stroke-width="0.35">CDK7</text>
<text transform="translate(357.80,292.70)" font-size="13.2" fill="#111" stroke="#111" stroke-width="0.35">p53</text>
<text transform="translate(357.80,313.30)" font-size="13.2" fill="#111" stroke="#111" stroke-width="0.35">p27</text>
<text transform="translate(357.80,334.50)" font-size="13.2" fill="#111" stroke="#111" stroke-width="0.35">p21</text>
<line x1="704.10" y1="19.50" x2="704.10" y2="345.70" stroke="#9a9a9a" stroke-width="0.8"/>
<line x1="702.50" y1="40.22" x2="704.10" y2="40.22" stroke="#888" stroke-width="0.8"/>
<line x1="702.50" y1="60.54" x2="704.10" y2="60.54" stroke="#888" stroke-width="0.8"/>
<line x1="702.50" y1="80.86" x2="704.10" y2="80.86" stroke="#888" stroke-width="0.8"/>
<line x1="702.50" y1="101.18" x2="704.10" y2="101.18" stroke="#888" stroke-width="0.8"/>
<line x1="702.50" y1="121.50" x2="704.10" y2="121.50" stroke="#888" stroke-width="0.8"/>
<line x1="702.50" y1="141.82" x2="704.10" y2="141.82" stroke="#888" stroke-width="0.8"/>
<line x1="702.50" y1="162.14" x2="704.10" y2="162.14" stroke="#888" stroke-width="0.8"/>
<line x1="702.50" y1="182.46" x2="704.10" y2="182.46" stroke="#888" stroke-width="0.8"/>
<line x1="702.50" y1="202.78" x2="704.10" y2="202.78" stroke="#888" stroke-width="0.8"/>
<line x1="702.50" y1="223.10" x2="704.10" y2="223.10" stroke="#888" stroke-width="0.8"/>
<line x1="702.50" y1="243.42" x2="704.10" y2="243.42" stroke="#888" stroke-width="0.8"/>
<line x1="702.50" y1="263.74" x2="704.10" y2="263.74" stroke="#888" stroke-width="0.8"/>
<line x1="702.50" y1="284.06" x2="704.10" y2="284.06" stroke="#888" stroke-width="0.8"/>
<line x1="702.50" y1="304.38" x2="704.10" y2="304.38" stroke="#888" stroke-width="0.8"/>
<line x1="702.50" y1="324.70" x2="704.10" y2="324.70" stroke="#888" stroke-width="0.8"/>
<rect x="704.45" y="25.05" width="16.81" height="10.70" fill="#2b2b2b" stroke="#0c0c0c" stroke-width="0.7"/>
<rect x="704.45" y="45.37" width="57.67" height="10.70" fill="#2b2b2b" stroke="#0c0c0c" stroke-width="0.7"/>
<rect x="660.09" y="65.69" width="43.66" height="10.70" fill="#2b2b2b" stroke="#0c0c0c" stroke-width="0.7"/>
<rect x="608.95" y="86.01" width="94.80" height="10.70" fill="#2b2b2b" stroke="#0c0c0c" stroke-width="0.7"/>
<rect x="687.64" y="106.33" width="16.11" height="10.70" fill="#2b2b2b" stroke="#0c0c0c" stroke-width="0.7"/>
<rect x="698.61" y="126.65" width="5.14" height="10.70" fill="#2b2b2b" stroke="#0c0c0c" stroke-width="0.7"/>
<rect x="704.45" y="146.97" width="2.45" height="10.70" fill="#2b2b2b" stroke="#0c0c0c" stroke-width="0.7"/>
<rect x="704.45" y="167.29" width="3.15" height="10.70" fill="#2b2b2b" stroke="#0c0c0c" stroke-width="0.7"/>
<line x1="689.70" y1="172.64" x2="726.40" y2="172.64" stroke="#080808" stroke-width="1.0"/>
<line x1="689.70" y1="171.14" x2="689.70" y2="174.14" stroke="#080808" stroke-width="1.0"/>
<line x1="726.40" y1="171.14" x2="726.40" y2="174.14" stroke="#080808" stroke-width="1.0"/>
<rect x="666.74" y="187.61" width="37.01" height="10.70" fill="#2b2b2b" stroke="#0c0c0c" stroke-width="0.7"/>
<line x1="662.70" y1="192.96" x2="669.10" y2="192.96" stroke="#080808" stroke-width="1.0"/>
<line x1="662.70" y1="191.46" x2="662.70" y2="194.46" stroke="#080808" stroke-width="1.0"/>
<line x1="669.10" y1="191.46" x2="669.10" y2="194.46" stroke="#080808" stroke-width="1.0"/>
<rect x="700.60" y="207.93" width="3.15" height="10.70" fill="#2b2b2b" stroke="#0c0c0c" stroke-width="0.7"/>
<line x1="688.60" y1="213.28" x2="711.30" y2="213.28" stroke="#080808" stroke-width="1.0"/>
<line x1="688.60" y1="211.78" x2="688.60" y2="214.78" stroke="#080808" stroke-width="1.0"/>
<line x1="711.30" y1="211.78" x2="711.30" y2="214.78" stroke="#080808" stroke-width="1.0"/>
<rect x="704.45" y="228.25" width="9.69" height="10.70" fill="#2b2b2b" stroke="#0c0c0c" stroke-width="0.7"/>
<line x1="708.00" y1="233.60" x2="722.50" y2="233.60" stroke="#080808" stroke-width="1.0"/>
<line x1="708.00" y1="232.10" x2="708.00" y2="235.10" stroke="#080808" stroke-width="1.0"/>
<line x1="722.50" y1="232.10" x2="722.50" y2="235.10" stroke="#080808" stroke-width="1.0"/>
<rect x="651.10" y="248.57" width="52.65" height="10.70" fill="#2b2b2b" stroke="#0c0c0c" stroke-width="0.7"/>
<line x1="628.10" y1="253.92" x2="672.00" y2="253.92" stroke="#080808" stroke-width="1.0"/>
<line x1="628.10" y1="252.42" x2="628.10" y2="255.42" stroke="#080808" stroke-width="1.0"/>
<line x1="672.00" y1="252.42" x2="672.00" y2="255.42" stroke="#080808" stroke-width="1.0"/>
<rect x="704.45" y="268.89" width="19.85" height="10.70" fill="#2b2b2b" stroke="#0c0c0c" stroke-width="0.7"/>
<rect x="704.45" y="289.21" width="35.61" height="10.70" fill="#2b2b2b" stroke="#0c0c0c" stroke-width="0.7"/>
<rect x="664.52" y="309.53" width="39.23" height="10.70" fill="#2b2b2b" stroke="#0c0c0c" stroke-width="0.7"/>
<line x1="640.00" y1="314.88" x2="686.40" y2="314.88" stroke="#080808" stroke-width="1.0"/>
<line x1="640.00" y1="313.38" x2="640.00" y2="316.38" stroke="#080808" stroke-width="1.0"/>
<line x1="686.40" y1="313.38" x2="686.40" y2="316.38" stroke="#080808" stroke-width="1.0"/>
<rect x="689.39" y="329.85" width="14.36" height="10.70" fill="#2b2b2b" stroke="#0c0c0c" stroke-width="0.7"/>
<line x1="673.80" y1="335.20" x2="700.00" y2="335.20" stroke="#080808" stroke-width="1.0"/>
<line x1="673.80" y1="333.70" x2="673.80" y2="336.70" stroke="#080808" stroke-width="1.0"/>
<line x1="700.00" y1="333.70" x2="700.00" y2="336.70" stroke="#080808" stroke-width="1.0"/>
<line x1="586.60" y1="19.50" x2="774.55" y2="19.50" stroke="#151515" stroke-width="1.3"/>
<line x1="773.90" y1="19.50" x2="773.90" y2="345.70" stroke="#151515" stroke-width="1.3"/>
<line x1="586.40" y1="345.70" x2="774.55" y2="345.70" stroke="#1a1a1a" stroke-width="1.4"/>
<line x1="586.90" y1="18.85" x2="586.90" y2="346.40" stroke="#151515" stroke-width="1.5"/>
<line x1="584.30" y1="19.50" x2="587.00" y2="19.50" stroke="#151515" stroke-width="1.3"/>
<line x1="587.35" y1="345.70" x2="587.35" y2="348.20" stroke="#222" stroke-width="0.9"/>
<text transform="translate(586.55,358.50) scale(0.780,1)" font-size="10.8" text-anchor="middle" fill="#111" stroke="#111" stroke-width="0.2">-100</text>
<line x1="610.70" y1="345.70" x2="610.70" y2="348.20" stroke="#222" stroke-width="0.9"/>
<text transform="translate(609.90,358.50) scale(0.780,1)" font-size="10.8" text-anchor="middle" fill="#111" stroke="#111" stroke-width="0.2">-80</text>
<line x1="634.05" y1="345.70" x2="634.05" y2="348.20" stroke="#222" stroke-width="0.9"/>
<text transform="translate(633.25,358.50) scale(0.780,1)" font-size="10.8" text-anchor="middle" fill="#111" stroke="#111" stroke-width="0.2">-60</text>
<line x1="657.40" y1="345.70" x2="657.40" y2="348.20" stroke="#222" stroke-width="0.9"/>
<text transform="translate(656.60,358.50) scale(0.780,1)" font-size="10.8" text-anchor="middle" fill="#111" stroke="#111" stroke-width="0.2">-40</text>
<line x1="680.75" y1="345.70" x2="680.75" y2="348.20" stroke="#222" stroke-width="0.9"/>
<text transform="translate(679.95,358.50) scale(0.780,1)" font-size="10.8" text-anchor="middle" fill="#111" stroke="#111" stroke-width="0.2">-20</text>
<line x1="704.10" y1="345.70" x2="704.10" y2="348.20" stroke="#222" stroke-width="0.9"/>
<text transform="translate(704.60,358.50) scale(0.780,1)" font-size="10.8" text-anchor="middle" fill="#111" stroke="#111" stroke-width="0.2">0</text>
<line x1="727.45" y1="345.70" x2="727.45" y2="348.20" stroke="#222" stroke-width="0.9"/>
<text transform="translate(727.95,358.50) scale(0.780,1)" font-size="10.8" text-anchor="middle" fill="#111" stroke="#111" stroke-width="0.2">20</text>
<line x1="750.80" y1="345.70" x2="750.80" y2="348.20" stroke="#222" stroke-width="0.9"/>
<text transform="translate(751.30,358.50) scale(0.780,1)" font-size="10.8" text-anchor="middle" fill="#111" stroke="#111" stroke-width="0.2">40</text>
<line x1="774.15" y1="345.70" x2="774.15" y2="348.20" stroke="#222" stroke-width="0.9"/>
<text transform="translate(774.65,358.50) scale(0.780,1)" font-size="10.8" text-anchor="middle" fill="#111" stroke="#111" stroke-width="0.2">60</text>
<text transform="translate(687.30,376.60) scale(1.090,1)" font-size="13.4" text-anchor="middle" fill="#111" stroke="#111" stroke-width="0.35">((U87-p16/U87-neo)-1) x 100</text>
<text transform="translate(777.60,36.10)" font-size="13.3" fill="#111" stroke="#111" stroke-width="0.35">E2F1</text>
<text transform="translate(777.60,56.50)" font-size="13.3" fill="#111" stroke="#111" stroke-width="0.35">E2F4</text>
<text transform="translate(777.60,75.90)" font-size="13.3" fill="#111" stroke="#111" stroke-width="0.35">pRb</text>
<text transform="translate(777.60,96.90)" font-size="13.3" fill="#111" stroke="#111" stroke-width="0.35">pRb-p</text>
<text transform="translate(777.60,114.00)" font-size="13.3" fill="#111" stroke="#111" stroke-width="0.35">p107</text>
<text transform="translate(777.60,136.10)" font-size="13.3" fill="#111" stroke="#111" stroke-width="0.35">cyclin D1</text>
<text transform="translate(777.60,154.10)" font-size="13.3" fill="#111" stroke="#111" stroke-width="0.35">CDK4</text>
<text transform="translate(777.60,174.30)" font-size="13.3" fill="#111" stroke="#111" stroke-width="0.35">cyclin E</text>
<text transform="translate(777.60,198.30)" font-size="13.3" fill="#111" stroke="#111" stroke-width="0.35">CDK2</text>
<text transform="translate(777.60,217.90)" font-size="13.3" fill="#111" stroke="#111" stroke-width="0.35">cyclin A</text>
<text transform="translate(777.60,236.70)" font-size="13.3" fill="#111" stroke="#111" stroke-width="0.35">cyclin B1</text>
<text transform="translate(777.60,259.40)" font-size="13.3" fill="#111" stroke="#111" stroke-width="0.35">CDK1</text>
<text transform="translate(777.60,279.50)" font-size="13.3" fill="#111" stroke="#111" stroke-width="0.35">CDK7</text>
<text transform="translate(777.60,298.30)" font-size="13.3" fill="#111" stroke="#111" stroke-width="0.35">p53</text>
<text transform="translate(777.60,319.60)" font-size="13.3" fill="#111" stroke="#111" stroke-width="0.35">p27</text>
<text transform="translate(777.60,339.00)" font-size="13.3" fill="#111" stroke="#111" stroke-width="0.35">p21</text>
<rect x="189.70" y="513.20" width="14.20" height="61.80" fill="#5f5f5f"/>
<rect x="203.90" y="553.99" width="14.20" height="21.01" fill="#b2b2b2"/>
<line x1="211.00" y1="551.00" x2="211.00" y2="556.10" stroke="#333" stroke-width="0.9"/>
<line x1="209.50" y1="551.00" x2="212.50" y2="551.00" stroke="#333" stroke-width="0.9"/>
<line x1="209.50" y1="556.10" x2="212.50" y2="556.10" stroke="#333" stroke-width="0.9"/>
<rect x="239.80" y="513.20" width="14.20" height="61.80" fill="#5f5f5f"/>
<rect x="254.00" y="514.81" width="14.20" height="60.19" fill="#b2b2b2"/>
<line x1="261.10" y1="501.80" x2="261.10" y2="528.20" stroke="#333" stroke-width="0.9"/>
<line x1="259.60" y1="501.80" x2="262.60" y2="501.80" stroke="#333" stroke-width="0.9"/>
<line x1="259.60" y1="528.20" x2="262.60" y2="528.20" stroke="#333" stroke-width="0.9"/>
<rect x="289.90" y="513.20" width="14.20" height="61.80" fill="#5f5f5f"/>
<rect x="304.10" y="508.87" width="14.20" height="66.13" fill="#b2b2b2"/>
<line x1="311.20" y1="500.60" x2="311.20" y2="518.50" stroke="#333" stroke-width="0.9"/>
<line x1="309.70" y1="500.60" x2="312.70" y2="500.60" stroke="#333" stroke-width="0.9"/>
<line x1="309.70" y1="518.50" x2="312.70" y2="518.50" stroke="#333" stroke-width="0.9"/>
<rect x="340.00" y="513.20" width="14.20" height="61.80" fill="#5f5f5f"/>
<rect x="354.20" y="522.41" width="14.20" height="52.59" fill="#b2b2b2"/>
<line x1="361.30" y1="513.70" x2="361.30" y2="531.20" stroke="#333" stroke-width="0.9"/>
<line x1="359.80" y1="513.70" x2="362.80" y2="513.70" stroke="#333" stroke-width="0.9"/>
<line x1="359.80" y1="531.20" x2="362.80" y2="531.20" stroke="#333" stroke-width="0.9"/>
<rect x="390.10" y="513.20" width="14.20" height="61.80" fill="#5f5f5f"/>
<rect x="404.30" y="474.51" width="14.20" height="100.49" fill="#b2b2b2"/>
<line x1="411.40" y1="458.80" x2="411.40" y2="491.60" stroke="#333" stroke-width="0.9"/>
<line x1="409.90" y1="458.80" x2="412.90" y2="458.80" stroke="#333" stroke-width="0.9"/>
<line x1="409.90" y1="491.60" x2="412.90" y2="491.60" stroke="#333" stroke-width="0.9"/>
<rect x="440.20" y="513.20" width="14.20" height="61.80" fill="#5f5f5f"/>
<rect x="454.40" y="473.52" width="14.20" height="101.48" fill="#b2b2b2"/>
<line x1="461.50" y1="447.20" x2="461.50" y2="500.70" stroke="#333" stroke-width="0.9"/>
<line x1="460.00" y1="447.20" x2="463.00" y2="447.20" stroke="#333" stroke-width="0.9"/>
<line x1="460.00" y1="500.70" x2="463.00" y2="500.70" stroke="#333" stroke-width="0.9"/>
<line x1="178.70" y1="420.30" x2="481.05" y2="420.30" stroke="#1a1a1a" stroke-width="1.3"/>
<line x1="480.40" y1="420.30" x2="480.40" y2="575.00" stroke="#1a1a1a" stroke-width="1.3"/>
<line x1="178.50" y1="575.00" x2="481.05" y2="575.00" stroke="#222" stroke-width="1.6"/>
<line x1="179.00" y1="419.65" x2="179.00" y2="575.80" stroke="#333" stroke-width="1.7"/>
<line x1="176.50" y1="575.00" x2="179.00" y2="575.00" stroke="#222" stroke-width="0.9"/>
<text transform="translate(174.30,578.75) scale(1.060,1)" font-size="10.8" text-anchor="end" fill="#111" stroke="#111" stroke-width="0.15">0.0</text>
<line x1="176.50" y1="544.10" x2="179.00" y2="544.10" stroke="#222" stroke-width="0.9"/>
<text transform="translate(174.30,547.85) scale(1.060,1)" font-size="10.8" text-anchor="end" fill="#111" stroke="#111" stroke-width="0.15">0.5</text>
<line x1="176.50" y1="513.20" x2="179.00" y2="513.20" stroke="#222" stroke-width="0.9"/>
<text transform="translate(174.30,516.95) scale(1.060,1)" font-size="10.8" text-anchor="end" fill="#111" stroke="#111" stroke-width="0.15">1.0</text>
<line x1="176.50" y1="482.30" x2="179.00" y2="482.30" stroke="#222" stroke-width="0.9"/>
<text transform="translate(174.30,486.05) scale(1.060,1)" font-size="10.8" text-anchor="end" fill="#111" stroke="#111" stroke-width="0.15">1.5</text>
<line x1="176.50" y1="451.40" x2="179.00" y2="451.40" stroke="#222" stroke-width="0.9"/>
<text transform="translate(174.30,455.15) scale(1.060,1)" font-size="10.8" text-anchor="end" fill="#111" stroke="#111" stroke-width="0.15">2.0</text>
<line x1="176.50" y1="420.50" x2="179.00" y2="420.50" stroke="#222" stroke-width="0.9"/>
<text transform="translate(174.30,424.25) scale(1.060,1)" font-size="10.8" text-anchor="end" fill="#111" stroke="#111" stroke-width="0.15">2.5</text>
<text transform="translate(123.60,425.30)" font-size="16.2" font-weight="bold" fill="#000" stroke="#000" stroke-width="0.5">b</text>
<rect x="191.10" y="429.00" width="7.30" height="6.80" fill="#5f5f5f"/>
<rect x="191.10" y="443.40" width="7.30" height="7.00" fill="#b2b2b2"/>
<text transform="translate(199.90,436.50)" font-size="12.1" fill="#111" stroke="#111" stroke-width="0.2">MCF7-neo</text>
<text transform="translate(199.90,450.90)" font-size="12.1" fill="#111" stroke="#111" stroke-width="0.2">MCF7-p16</text>
<text transform="translate(135.4,496.4) rotate(-90) scale(1.17,1)" font-size="12.3" text-anchor="middle" fill="#111" stroke="#111" stroke-width="0.2">relative expression</text>
<text transform="translate(152.5,494.8) rotate(-90) scale(1.195,1)" font-size="12.3" text-anchor="middle" fill="#111" stroke="#111" stroke-width="0.2">reference gene: &#946;-actin</text>
<text transform="translate(203.90,589.50)" font-size="13.5" text-anchor="middle" fill="#111" stroke="#111" stroke-width="0.2">protein</text>
<text transform="translate(254.00,589.50)" font-size="13.5" text-anchor="middle" fill="#111" stroke="#111" stroke-width="0.2">mRNA</text>
<text transform="translate(304.10,589.50)" font-size="13.5" text-anchor="middle" fill="#111" stroke="#111" stroke-width="0.2">protein</text>
<text transform="translate(354.20,589.50)" font-size="13.5" text-anchor="middle" fill="#111" stroke="#111" stroke-width="0.2">mRNA</text>
<text transform="translate(404.30,589.50)" font-size="13.5" text-anchor="middle" fill="#111" stroke="#111" stroke-width="0.2">protein</text>
<text transform="translate(454.40,589.50)" font-size="13.5" text-anchor="middle" fill="#111" stroke="#111" stroke-width="0.2">mRNA</text>
<line x1="184.20" y1="595.10" x2="272.70" y2="595.10" stroke="#222" stroke-width="1.5"/>
<text transform="translate(229.40,610.80)" font-size="13.5" text-anchor="middle" fill="#111" stroke="#111" stroke-width="0.2">CDK1</text>
<line x1="285.90" y1="595.10" x2="373.70" y2="595.10" stroke="#222" stroke-width="1.5"/>
<text transform="translate(329.70,610.80)" font-size="13.5" text-anchor="middle" fill="#111" stroke="#111" stroke-width="0.2">CDK4</text>
<line x1="385.30" y1="595.10" x2="474.10" y2="595.10" stroke="#222" stroke-width="1.5"/>
<text transform="translate(431.90,610.80)" font-size="13.5" text-anchor="middle" fill="#111" stroke="#111" stroke-width="0.2">cyclin E</text>
<rect x="564.10" y="514.55" width="22.50" height="62.05" fill="#5e5e5e"/>
<rect x="586.60" y="543.53" width="23.00" height="33.07" fill="#b4b4b4"/>
<rect x="632.50" y="514.55" width="22.30" height="62.05" fill="#4e4e4e"/>
<rect x="654.80" y="478.79" width="22.90" height="97.81" fill="#979797"/>
<line x1="598.30" y1="531.80" x2="598.30" y2="555.50" stroke="#333" stroke-width="0.9"/>
<line x1="596.80" y1="531.80" x2="599.80" y2="531.80" stroke="#333" stroke-width="0.9"/>
<line x1="596.80" y1="555.50" x2="599.80" y2="555.50" stroke="#333" stroke-width="0.9"/>
<line x1="666.40" y1="444.80" x2="666.40" y2="511.20" stroke="#333" stroke-width="0.9"/>
<line x1="664.90" y1="444.80" x2="667.90" y2="444.80" stroke="#333" stroke-width="0.9"/>
<line x1="664.90" y1="511.20" x2="667.90" y2="511.20" stroke="#333" stroke-width="0.9"/>
<line x1="537.10" y1="421.80" x2="702.10" y2="421.80" stroke="#111" stroke-width="1.6"/>
<line x1="701.30" y1="421.80" x2="701.30" y2="576.60" stroke="#111" stroke-width="1.6"/>
<line x1="536.90" y1="576.60" x2="702.10" y2="576.60" stroke="#111" stroke-width="1.7"/>
<line x1="537.40" y1="421.00" x2="537.40" y2="577.45" stroke="#222" stroke-width="1.7"/>
<line x1="534.90" y1="576.20" x2="537.40" y2="576.20" stroke="#222" stroke-width="0.9"/>
<text transform="translate(533.70,579.95) scale(1.060,1)" font-size="10.8" text-anchor="end" fill="#111" stroke="#111" stroke-width="0.05">0.0</text>
<line x1="534.90" y1="545.38" x2="537.40" y2="545.38" stroke="#222" stroke-width="0.9"/>
<text transform="translate(533.70,549.12) scale(1.060,1)" font-size="10.8" text-anchor="end" fill="#111" stroke="#111" stroke-width="0.05">0.5</text>
<line x1="534.90" y1="514.55" x2="537.40" y2="514.55" stroke="#222" stroke-width="0.9"/>
<text transform="translate(533.70,518.30) scale(1.060,1)" font-size="10.8" text-anchor="end" fill="#111" stroke="#111" stroke-width="0.05">1.0</text>
<line x1="534.90" y1="483.73" x2="537.40" y2="483.73" stroke="#222" stroke-width="0.9"/>
<text transform="translate(533.70,487.48) scale(1.060,1)" font-size="10.8" text-anchor="end" fill="#111" stroke="#111" stroke-width="0.05">1.5</text>
<line x1="534.90" y1="452.90" x2="537.40" y2="452.90" stroke="#222" stroke-width="0.9"/>
<text transform="translate(533.70,456.65) scale(1.060,1)" font-size="10.8" text-anchor="end" fill="#111" stroke="#111" stroke-width="0.05">2.0</text>
<line x1="534.90" y1="422.08" x2="537.40" y2="422.08" stroke="#222" stroke-width="0.9"/>
<text transform="translate(533.70,425.83) scale(1.060,1)" font-size="10.8" text-anchor="end" fill="#111" stroke="#111" stroke-width="0.05">2.5</text>
<text transform="translate(501.00,422.00)" font-size="16.5" font-weight="bold" fill="#000" stroke="#000" stroke-width="0.5">c</text>
<rect x="549.00" y="427.40" width="8.90" height="8.00" fill="#5e5e5e"/>
<rect x="549.00" y="440.80" width="8.90" height="8.00" fill="#b4b4b4"/>
<text transform="translate(562.00,435.00)" font-size="12.6" fill="#111" stroke="#111" stroke-width="0.15">U87-neo</text>
<text transform="translate(562.00,448.80)" font-size="12.6" fill="#111" stroke="#111" stroke-width="0.15">U87-p16</text>
<text transform="translate(512.3,498.9) rotate(-90) scale(1.06,1)" font-size="13.5" text-anchor="middle" fill="#111" stroke="#111" stroke-width="0.1">CDK1 expression</text>
<text transform="translate(586.30,590.70)" font-size="14.2" text-anchor="middle" fill="#111" stroke="#111" stroke-width="0.1">protein</text>
<text transform="translate(657.60,590.70)" font-size="14.2" text-anchor="middle" fill="#111" stroke="#111" stroke-width="0.1">mRNA</text></svg>
</body></html>
